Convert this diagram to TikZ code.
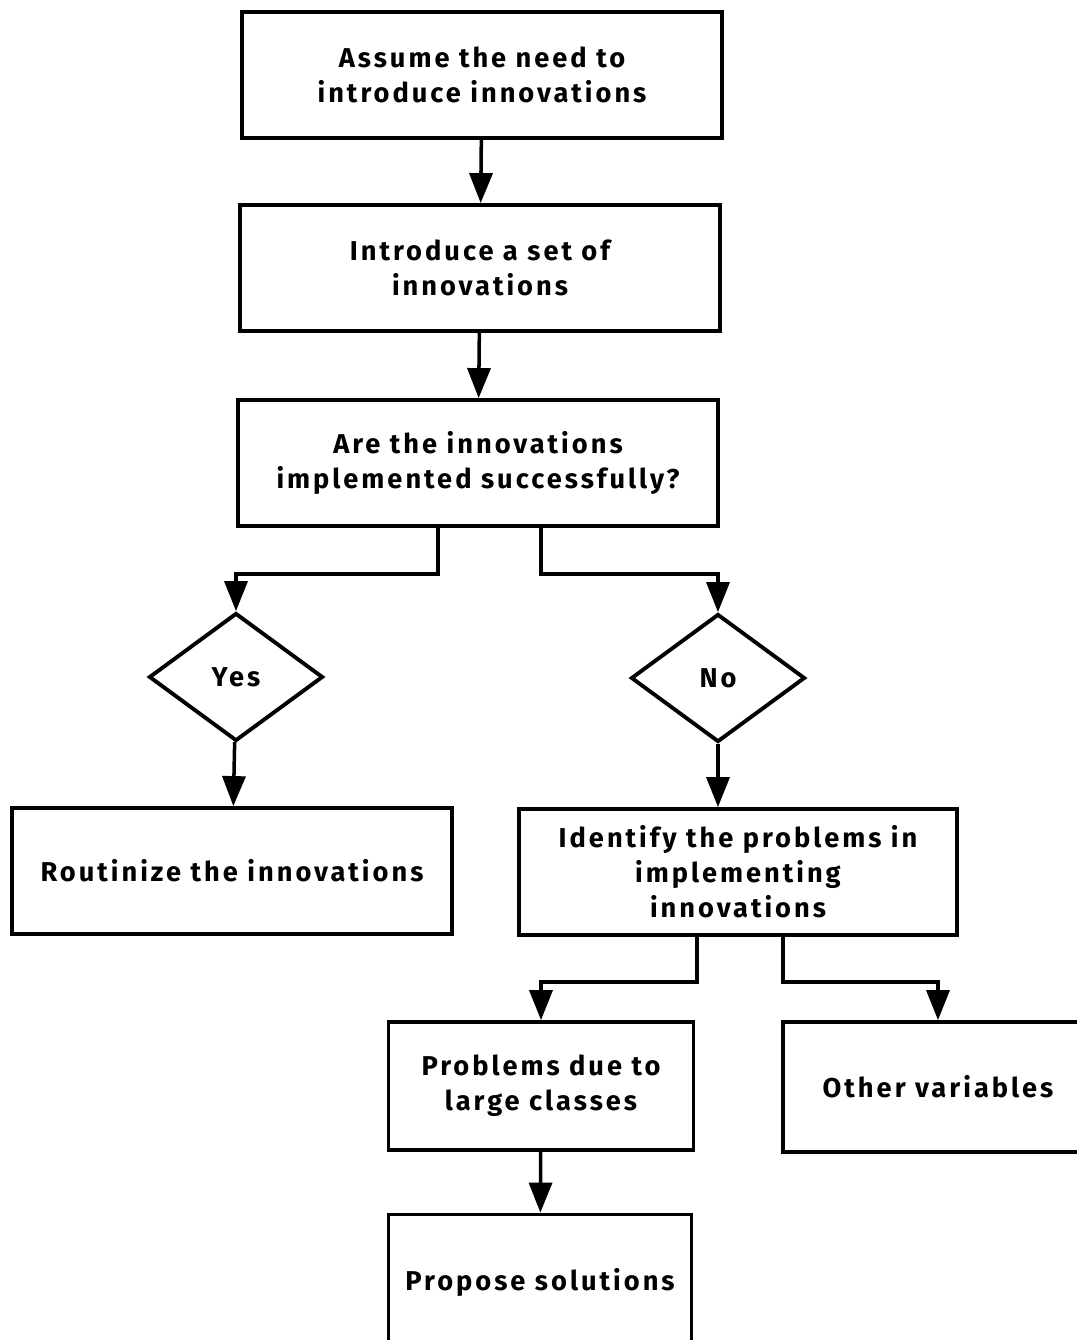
\documentclass[tikz,border=0pt]{standalone}
\usepackage{fontspec}
\setmainfont{Fira Sans}[BoldFont={Fira Sans Bold},LetterSpace=11]
\usetikzlibrary{shapes.geometric,arrows.meta,calc}

\begin{document}
\begin{tikzpicture}[x=0.02cm,y=-0.02cm,inner sep=0pt,
  box/.style={draw,line width=2.2pt,minimum width=#1*0.02cm,minimum height=2.52cm,
    align=center,font=\bfseries\fontsize{15.5}{20}\selectfont},
  decision/.style={draw,diamond,line width=2.2pt,minimum width=3.48cm,minimum height=2.56cm,
    font=\bfseries\fontsize{15.5}{20}\selectfont},
  arrow/.style={line width=2pt,-{Triangle[length=0.6cm,width=0.46cm]}}]

\useasboundingbox (0,0) rectangle (1077,1340);
\clip (0,0) rectangle (1077,1340);

\node[box=480] (need) at (482,75) {Assume the need to\\introduce innovations};
\node[box=480] (intro) at (480,268) {Introduce a set of\\innovations};
\node[box=480] (check) at (478,463) {Are the innovations\\implemented successfully?};

\node[decision] (yes) at (236,677) {Yes};
\node[decision] (no) at (718,678) {No};

\node[box=440] (routine) at (232,871) {Routinize the innovations};
\node[box=438] (identify) at (738,872) {Identify the problems in\\implementing\\innovations};

\node[box=305,minimum height=2.56cm] (large) at (541,1086) {Problems due to\\large classes};
\node[box=310,minimum height=2.6cm] (other) at (938,1087) {Other variables};

\node[box=303,minimum height=2.7cm] (propose) at (540,1282) {Propose solutions};

\draw[arrow] (need) -- (intro);
\draw[arrow] (intro) -- (check);

\draw[arrow] ($(check.south)+(-40,0)$) -- ++(0,46) -| (yes.north);
\draw[arrow] ($(check.south)+(63,0)$) -- ++(0,46) -| (no.north);

\draw[arrow] (yes) -- (routine);
\draw[arrow] (no.south) -- (no.south |- identify.north);

\draw[arrow] ($(identify.south)+(-41,0)$) -- ++(0,45) -| (large.north);
\draw[arrow] ($(identify.south)+(45,0)$) -- ++(0,45) -| (other.north);

\draw[arrow] (large) -- (propose);

\end{tikzpicture}
\end{document}
